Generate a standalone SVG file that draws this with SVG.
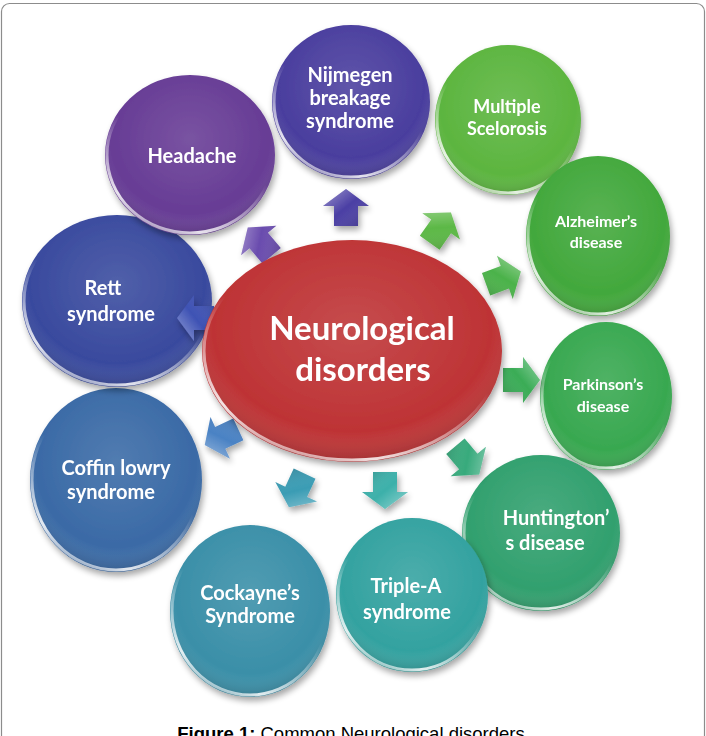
<svg xmlns="http://www.w3.org/2000/svg" width="706" height="736" viewBox="0 0 706 736">
<style>
.lbl{font-family:Lato,"Liberation Sans",sans-serif;font-weight:bold;fill:#fff;text-anchor:middle;font-size:20px}
.sm{font-size:16px}
.md{font-size:18px}
.big{font-size:33px}
.ov{fill:url(#shade)}
.rim{fill:none;stroke:url(#rim);stroke-width:3}
.cap{font-family:"Liberation Sans",Arial,sans-serif;font-size:18.5px;fill:#000}
</style>
<defs>
<radialGradient id="shade" cx="0.5" cy="0.4" r="0.62">
<stop offset="0" stop-color="#fff" stop-opacity="0.12"/>
<stop offset="0.75" stop-color="#fff" stop-opacity="0"/>
<stop offset="1" stop-color="#000" stop-opacity="0.22"/>
</radialGradient>
<linearGradient id="rim" x1="0.7" y1="0" x2="0.2" y2="1">
<stop offset="0.45" stop-color="#fff" stop-opacity="0"/>
<stop offset="0.85" stop-color="#fff" stop-opacity="0.85"/>
<stop offset="1" stop-color="#fff" stop-opacity="0.3"/>
</linearGradient>
<linearGradient id="abev" x1="0" y1="0" x2="1" y2="1">
<stop offset="0" stop-color="#fff" stop-opacity="0.45"/>
<stop offset="0.5" stop-color="#fff" stop-opacity="0"/>
<stop offset="1" stop-color="#000" stop-opacity="0.2"/>
</linearGradient>
<filter id="sh" x="-20%" y="-20%" width="140%" height="140%">
<feGaussianBlur in="SourceAlpha" stdDeviation="3"/>
<feOffset dx="2" dy="4" result="b"/>
<feComponentTransfer><feFuncA type="linear" slope="0.35"/></feComponentTransfer>
<feMerge><feMergeNode/><feMergeNode in="SourceGraphic"/></feMerge>
</filter>
<polygon id="arw" points="0,-19 23,-2 12,-2 12,18 -12,18 -12,-2 -23,-2"/>
</defs>

<rect x="1.5" y="3.5" width="703" height="760" rx="8" fill="#fff" stroke="#8c8c8c" stroke-width="1.2"/>

<g id="node-nijmegen" filter="url(#sh)">
<ellipse cx="351" cy="102" rx="79" ry="77" fill="#4a3e9e"/>
<ellipse class="ov" cx="351" cy="102" rx="79" ry="77"/>
<ellipse class="rim" cx="351" cy="102" rx="77" ry="75"/>
<text class="lbl" x="350" y="82">Nijmegen</text>
<text class="lbl" x="350" y="105">breakage</text>
<text class="lbl" x="350" y="128">syndrome</text>
</g>
<g id="node-multiple" filter="url(#sh)">
<ellipse cx="508" cy="120" rx="73" ry="75" fill="#5cb53f"/>
<ellipse class="ov" cx="508" cy="120" rx="73" ry="75"/>
<ellipse class="rim" cx="508" cy="120" rx="71" ry="73"/>
<text class="lbl md" x="507" y="113">Multiple</text>
<text class="lbl md" x="507" y="135">Scelorosis</text>
</g>
<g id="node-alzheimer" filter="url(#sh)">
<ellipse cx="598" cy="236" rx="72" ry="80" fill="#42a83c"/>
<ellipse class="ov" cx="598" cy="236" rx="72" ry="80"/>
<ellipse class="rim" cx="598" cy="236" rx="70" ry="78"/>
<text class="lbl sm" x="596" y="227">Alzheimer’s</text>
<text class="lbl sm" x="596" y="248">disease</text>
</g>
<g id="node-parkinson" filter="url(#sh)">
<ellipse cx="606" cy="396" rx="66" ry="74" fill="#38a850"/>
<ellipse class="ov" cx="606" cy="396" rx="66" ry="74"/>
<ellipse class="rim" cx="606" cy="396" rx="64" ry="72"/>
<text class="lbl sm" x="603" y="390">Parkinson’s</text>
<text class="lbl sm" x="603" y="412">disease</text>
</g>
<g id="node-huntington" filter="url(#sh)">
<ellipse cx="541" cy="533" rx="79" ry="78" fill="#31a06e"/>
<ellipse class="ov" cx="541" cy="533" rx="79" ry="78"/>
<ellipse class="rim" cx="541" cy="533" rx="77" ry="76"/>
<text class="lbl" x="556" y="525">Huntington’</text>
<text class="lbl" x="545" y="550">s disease</text>
</g>
<g id="node-triplea" filter="url(#sh)">
<ellipse cx="412" cy="595" rx="76" ry="77" fill="#33a2a0"/>
<ellipse class="ov" cx="412" cy="595" rx="76" ry="77"/>
<ellipse class="rim" cx="412" cy="595" rx="74" ry="75"/>
<text class="lbl" x="406" y="593">Triple-A</text>
<text class="lbl" x="407" y="619">syndrome</text>
</g>
<g id="node-cockayne" filter="url(#sh)">
<ellipse cx="250" cy="611" rx="80" ry="86" fill="#3a8fa8"/>
<ellipse class="ov" cx="250" cy="611" rx="80" ry="86"/>
<ellipse class="rim" cx="250" cy="611" rx="78" ry="84"/>
<text class="lbl" x="250" y="600">Cockayne’s</text>
<text class="lbl" x="250" y="623">Syndrome</text>
</g>
<g id="node-coffin" filter="url(#sh)">
<ellipse cx="116" cy="480" rx="86" ry="92" fill="#3a6aa6"/>
<ellipse class="ov" cx="116" cy="480" rx="86" ry="92"/>
<ellipse class="rim" cx="116" cy="480" rx="84" ry="90"/>
<text class="lbl" x="116" y="475">Coffin lowry</text>
<text class="lbl" x="111" y="499">syndrome</text>
</g>
<g id="node-rett" filter="url(#sh)">
<ellipse cx="117" cy="301" rx="95" ry="86" fill="#394a9e"/>
<ellipse class="ov" cx="117" cy="301" rx="95" ry="86"/>
<ellipse class="rim" cx="117" cy="301" rx="93" ry="84"/>
<text class="lbl" x="103" y="295">Rett</text>
<text class="lbl" x="111" y="321">syndrome</text>
</g>
<g id="node-headache" filter="url(#sh)">
<ellipse cx="190" cy="155" rx="85" ry="80" fill="#673c95"/>
<ellipse class="ov" cx="190" cy="155" rx="85" ry="80"/>
<ellipse class="rim" cx="190" cy="155" rx="83" ry="78"/>
<text class="lbl" x="192" y="163">Headache</text>
</g>

<g id="connectors" filter="url(#sh)">
<g transform="translate(346,208)"><use href="#arw" fill="#4b3fa4"/><use href="#arw" fill="url(#abev)"/></g>
<g transform="translate(440,228) rotate(35)"><use href="#arw" fill="#5cb846"/><use href="#arw" fill="url(#abev)"/></g>
<g transform="translate(503,278) rotate(70)"><use href="#arw" fill="#4bb24a"/><use href="#arw" fill="url(#abev)"/></g>
<g transform="translate(521,380) rotate(90)"><use href="#arw" fill="#3aac56"/><use href="#arw" fill="url(#abev)"/></g>
<g transform="translate(467,460) rotate(140)"><use href="#arw" fill="#37aa7c"/><use href="#arw" fill="url(#abev)"/></g>
<g transform="translate(385,490) rotate(180)"><use href="#arw" fill="#3cb0aa"/><use href="#arw" fill="url(#abev)"/></g>
<g transform="translate(297,490) rotate(205)"><use href="#arw" fill="#3a9cb4"/><use href="#arw" fill="url(#abev)"/></g>
<g transform="translate(222,437) rotate(245)"><use href="#arw" fill="#4a82c4"/><use href="#arw" fill="url(#abev)"/></g>
<g transform="translate(196,318) rotate(270)"><use href="#arw" fill="#3e52b4"/><use href="#arw" fill="url(#abev)"/></g>
<g transform="translate(260,242) rotate(320)"><use href="#arw" fill="#6a4cae"/><use href="#arw" fill="url(#abev)"/></g>
</g>

<g id="node-center" filter="url(#sh)">
<ellipse cx="352" cy="351" rx="150" ry="111" fill="#be3335"/>
<ellipse class="ov" cx="352" cy="351" rx="150" ry="111"/>
<ellipse class="rim" cx="352" cy="351" rx="148" ry="109"/>
<text class="lbl big" x="362" y="340">Neurological</text>
<text class="lbl big" x="363" y="381">disorders</text>
</g>

<text class="cap" x="351" y="740" text-anchor="middle"><tspan font-weight="bold">Figure 1:</tspan> Common Neurological disorders</text>
</svg>
